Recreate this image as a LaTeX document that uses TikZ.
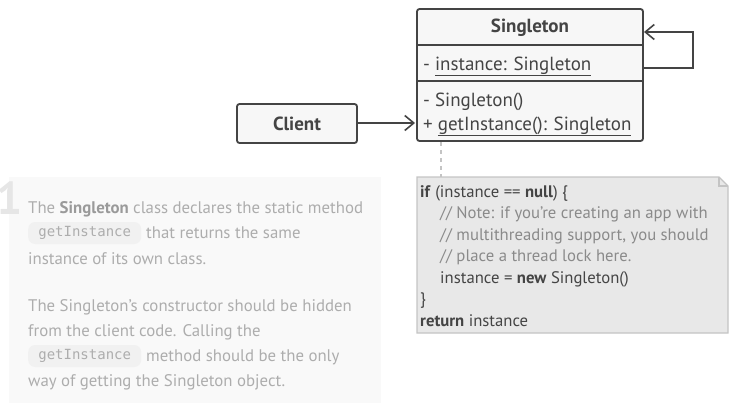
\documentclass[tikz,border=0pt]{standalone}
\usepackage{fontspec}
\setmainfont{PT Sans}
\setmonofont{DejaVu Sans Mono}
\usetikzlibrary{arrows.meta}
\definecolor{ink}{HTML}{444444}
\definecolor{boxfill}{HTML}{F7F7F7}
\definecolor{notefill}{HTML}{E8E8E8}
\definecolor{noteline}{HTML}{C4C4C4}
\definecolor{comment}{HTML}{8A8A8A}
\definecolor{paneltxt}{HTML}{ADADAD}
\definecolor{panelbold}{HTML}{9A9A9A}
\definecolor{panelfill}{HTML}{F9F9F9}
\definecolor{codefill}{HTML}{F1F1F1}
\definecolor{bignum}{HTML}{E6E6E6}
\tikzset{
  umlline/.style={draw=ink, line width=1.8pt},
  openarrow/.style={-{Straight Barb[length=9pt,width=15pt,line width=1.6pt]}, draw=ink, line width=1.8pt},
  umltext/.style={text=ink, font=\fontsize{19}{19}\selectfont, inner sep=0pt, anchor=base west},
  notetext/.style={text=ink, font=\fontsize{16.7}{16.7}\selectfont, inner sep=0pt, anchor=base west},
  notecomment/.style={notetext, text=comment},
  paneltext/.style={text=paneltxt, font=\fontsize{16.8}{16.8}\selectfont, inner sep=0pt, anchor=base west},
  codechip/.style={fill=codefill, rounded corners=7pt, minimum width=113pt, minimum height=22pt, anchor=west, inner sep=0pt, text=paneltxt, font=\ttfamily\fontsize{14}{14}\selectfont}
}
\begin{document}
\begin{tikzpicture}[x=1pt,y=-1pt]
\useasboundingbox (0,0) rectangle (734,410);
% left panel
\fill[panelfill] (9,177) rectangle (381,403);
\node[text=bignum, font=\bfseries\fontsize{46}{46}\selectfont, inner sep=0pt, anchor=base west] (num) at (-4,214) {1};
\node[paneltext] (p1) at (28,213) {The {\color{panelbold}\bfseries Singleton} class declares the static method};
\node[codechip] (c1) at (28,233) {getInstance};
\node[paneltext] (p2) at (146,238) {that returns the same};
\node[paneltext] (p3) at (28,264) {instance of its own class.};
\node[paneltext] (p4) at (28,311) {The Singleton’s constructor should be hidden};
\node[paneltext] (p5) at (28,336) {from the client code. Calling the};
\node[codechip] (c2) at (28,356) {getInstance};
\node[paneltext] (p6) at (146,361) {method should be the only};
\node[paneltext] (p7) at (28,386) {way of getting the Singleton object.};
% Singleton class
\draw[umlline, fill=boxfill, rounded corners=2.5pt] (417,9) rectangle (643,141);
\coordinate (s1) at (417,45);
\coordinate (s1e) at (643,45);
\coordinate (s2) at (417,81);
\coordinate (s2e) at (643,81);
\draw[umlline] (s1) -- (s1e);
\draw[umlline] (s2) -- (s2e);
\node[text=ink, font=\bfseries\fontsize{19}{19}\selectfont, inner sep=0pt] (title) at (530,28) {Singleton};
\node[umltext] (attr) at (423,70) {- \underline{instance: Singleton}};
\node[umltext] (m1) at (423,106) {- Singleton()};
\node[umltext] (m2) at (423,130) {+ \underline{getInstance(): Singleton}};
% self association
\coordinate (selfout) at (643,68);
\coordinate (selfin) at (644,32);
\draw[openarrow] (selfout) -- (693,68) -- (693,32) -- (selfin);
% Client
\draw[umlline, fill=boxfill, rounded corners=2.5pt] (237,104) rectangle (357,143);
\node[text=ink, font=\bfseries\fontsize{19}{19}\selectfont, inner sep=0pt] (client) at (297,124) {Client};
\coordinate (cl) at (357,123);
\coordinate (sl) at (415,123);
\draw[openarrow] (cl) -- (sl);
% note
\coordinate (nd1) at (441,142);
\coordinate (nd2) at (441,177);
\draw[noteline, line width=1.6pt, dash pattern=on 4pt off 4pt] (nd1) -- (nd2);
\draw[noteline, line width=1.4pt, fill=notefill] (417,177) -- (719,177) -- (728,186) -- (728,333) -- (417,333) -- cycle;
\draw[noteline, line width=1.2pt] (719,177) -- (719,186) -- (728,186);
\node[notetext] (n1) at (420,197) {\textbf{if} (instance == \textbf{null}) \{};
\node[notecomment] (n2) at (440,218) {// Note: if you’re creating an app with};
\node[notecomment] (n3) at (440,240) {// multithreading support, you should};
\node[notecomment] (n4) at (440,261) {// place a thread lock here.};
\node[notetext] (n5) at (440,283) {instance = \textbf{new} Singleton()};
\node[notetext] (n6) at (420,304) {\}};
\node[notetext] (n7) at (420,326) {\textbf{return} instance};
\end{tikzpicture}
\end{document}
